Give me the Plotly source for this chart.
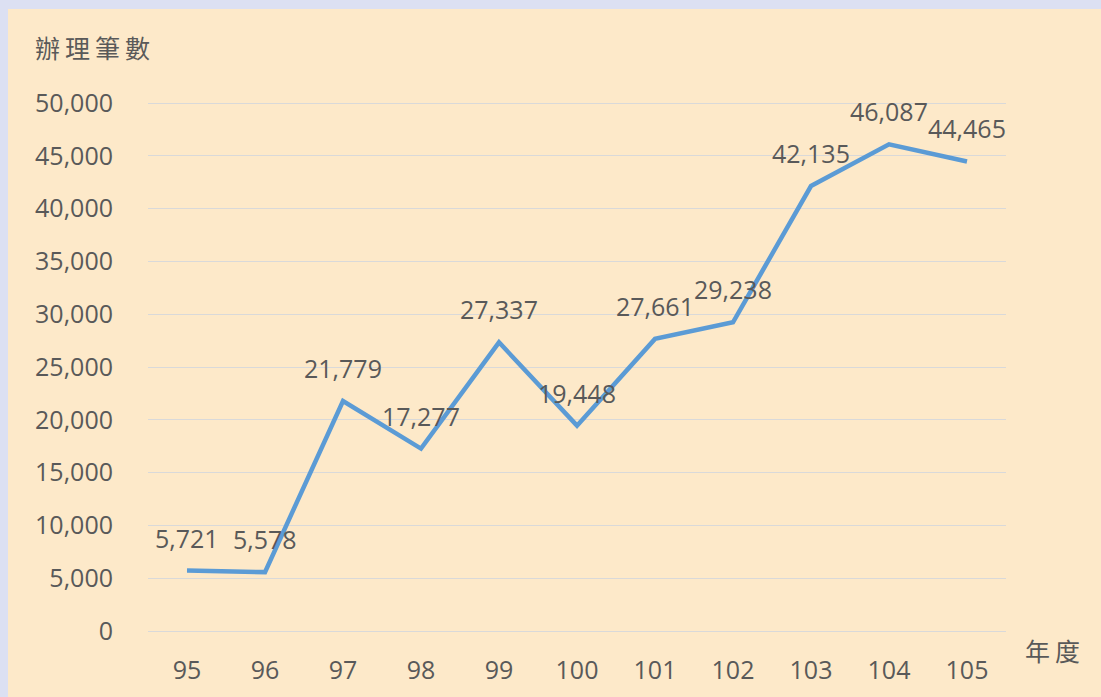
import plotly.graph_objects as go

years = ["95", "96", "97", "98", "99", "100", "101", "102", "103", "104", "105"]
counts = [5721, 5578, 21779, 17277, 27337, 19448, 27661, 29238, 42135, 46087, 44465]
y_ticks = [0, 5000, 10000, 15000, 20000, 25000, 30000, 35000, 40000, 45000, 50000]
y_title = "辦理筆數"
x_title = "年度"

txt_color = "#595959"
num_font = "Open Sans, Noto Sans, sans-serif"
cjk_font = "Noto Sans CJK TC"
FS = 25

W, H = 1101, 697
PAD = 3
L, R, T, B = 148, 1006, 103 - PAD, 631 + PAD
pw, ph = R - L, B - T
ppu = (631 - 103) / 50000.0
ymin, ymax = -PAD / ppu, 50000 + PAD / ppu

fig = go.Figure()
fig.add_trace(go.Scatter(
    x=years, y=counts, mode="lines",
    line=dict(color="#5B9BD5", width=4.5),
    hoverinfo="skip", showlegend=False,
))

for i, v in enumerate(counts):
    fig.add_annotation(x=i, y=v, xref="x", yref="y", text=f"{v:,}", showarrow=False,
                       yshift=33, font=dict(family=num_font, size=FS, color=txt_color))

fig.add_annotation(text="\u2009".join(y_title), xref="paper", yref="paper",
                   x=(33 - L) / pw, y=(B - 47) / ph, xanchor="left", yanchor="middle",
                   showarrow=False, font=dict(family=cjk_font, size=FS, color=txt_color))
fig.add_annotation(text="\u2009".join(x_title), xref="paper", yref="paper",
                   x=(1023 - L) / pw, y=(B - 650) / ph, xanchor="left", yanchor="middle",
                   showarrow=False, font=dict(family=cjk_font, size=FS, color=txt_color))

fig.update_layout(
    width=W, height=H, autosize=False,
    paper_bgcolor="#DCE0F2",
    plot_bgcolor="rgba(0,0,0,0)",
    margin=dict(l=L, r=W - R, t=T, b=H - B, autoexpand=False),
    modebar=dict(bgcolor="rgba(0,0,0,0)", color="rgba(0,0,0,0)", activecolor="rgba(0,0,0,0)"),
    shapes=[dict(type="rect", xref="paper", yref="paper", layer="below",
                 x0=(8 - L) / pw, x1=(W - L) / pw, y0=(B - H) / ph, y1=(B - 9) / ph,
                 fillcolor="#FDE9C9", line=dict(width=0))],
    xaxis=dict(type="category", range=[-0.5, 10.5], showgrid=False, zeroline=False,
               showline=False, ticks="", ticklabelstandoff=19,
               tickfont=dict(family=num_font, size=FS, color=txt_color)),
    yaxis=dict(range=[ymin, ymax], tickvals=y_ticks, ticktext=[f"{t:,}" for t in y_ticks],
               showgrid=True, gridcolor="#D9D9D9", gridwidth=1, zeroline=False,
               showline=False, ticks="", ticklabelstandoff=34,
               tickfont=dict(family=num_font, size=FS, color=txt_color)),
)

fig.write_html("out.html", config={"displaylogo": False, "displayModeBar": False},
               post_script="document.body.style.margin='0';document.body.style.background='#DCE0F2';")
